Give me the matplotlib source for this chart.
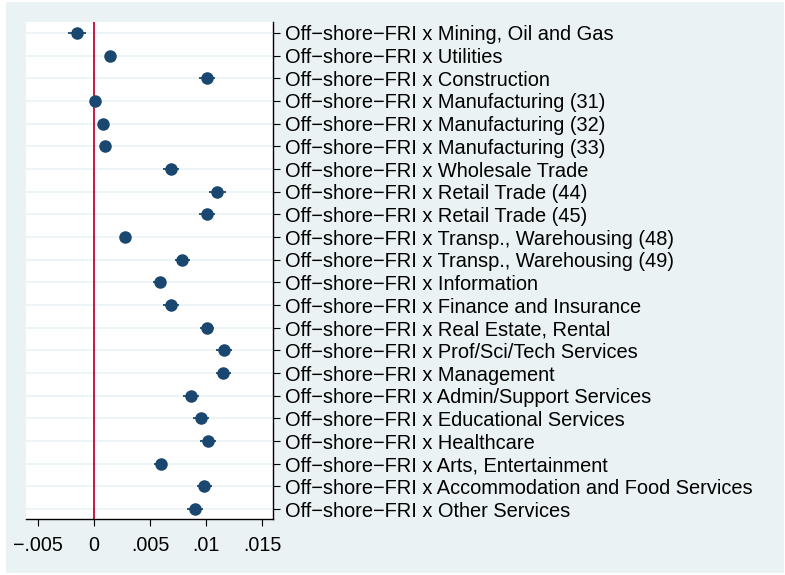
import matplotlib.pyplot as plt
from matplotlib.patches import Rectangle

plt.rcParams['font.family'] = ['Liberation Sans', 'DejaVu Sans']

# --- data ---
labels = [
    "Mining, Oil and Gas", "Utilities", "Construction",
    "Manufacturing (31)", "Manufacturing (32)", "Manufacturing (33)",
    "Wholesale Trade", "Retail Trade (44)", "Retail Trade (45)",
    "Transp., Warehousing (48)", "Transp., Warehousing (49)",
    "Information", "Finance and Insurance", "Real Estate, Rental",
    "Prof/Sci/Tech Services", "Management", "Admin/Support Services",
    "Educational Services", "Healthcare", "Arts, Entertainment",
    "Accommodation and Food Services", "Other Services",
]
coef = [-0.00152, 0.00147, 0.01006, 0.00010, 0.00078, 0.00096,
        0.00685, 0.01100, 0.01006, 0.00277, 0.00789,
        0.00586, 0.00688, 0.01009, 0.01158, 0.01155, 0.00863,
        0.00955, 0.01015, 0.00595, 0.00985, 0.00899]
ci_lo = [-0.00232, 0.00117, 0.00936, -0.00020, 0.00048, 0.00066,
         0.00615, 0.01025, 0.00936, 0.00247, 0.00719,
         0.00526, 0.00618, 0.00944, 0.01088, 0.01085, 0.00793,
         0.00880, 0.00945, 0.00540, 0.00920, 0.00829]
ci_hi = [-0.00072, 0.00177, 0.01076, 0.00040, 0.00108, 0.00126,
         0.00755, 0.01175, 0.01076, 0.00307, 0.00859,
         0.00646, 0.00758, 0.01074, 0.01228, 0.01225, 0.00933,
         0.01030, 0.01085, 0.00650, 0.01050, 0.00969]
xticks = [-0.005, 0, 0.005, 0.01, 0.015]
xtick_labels = ["\u2212.005", "0", ".005", ".01", ".015"]

navy = "#1a476f"
bg = "#eaf2f3"

fig = plt.figure(figsize=(7.85, 5.75), dpi=100)
fig.patch.set_facecolor("white")
fig.add_artist(Rectangle((6 / 785, 2 / 575), 778 / 785, 571 / 575,
                         transform=fig.transFigure, facecolor=bg,
                         edgecolor="none", zorder=-10))

ax = fig.add_axes([26 / 785, 56 / 575, 247 / 785, 497 / 575])
ax.set_facecolor("white")

ypos = list(range(1, len(labels) + 1))
for y in ypos:
    ax.axhline(y, color=bg, lw=1.2, zorder=1)
ax.axvline(0, color="#c10534", lw=1.3, zorder=2)

ax.hlines(ypos, ci_lo, ci_hi, color=navy, lw=1.3, zorder=3)
ax.plot(coef, ypos, "o", color=navy, ms=8, zorder=4)

ax.set_xlim(-0.00607, 0.01598)
ax.set_ylim(22.44, 0.515)

ax.set_xticks(xticks)
ax.set_xticklabels(xtick_labels, fontsize=14.2)
ax.set_yticks(ypos)
ax.set_yticklabels(["Off\u2212shore\u2212FRI x " + s for s in labels], fontsize=14.4)
ax.yaxis.tick_right()
ax.tick_params(axis="y", length=5, width=0.8, pad=3.5)
ax.tick_params(axis="x", length=5, width=0.8, pad=7)

ax.spines["top"].set_visible(False)
ax.spines["left"].set_visible(False)
ax.spines["right"].set_linewidth(1.0)
ax.spines["bottom"].set_linewidth(1.0)

fig.savefig("out.png", dpi=100, facecolor=fig.get_facecolor())
